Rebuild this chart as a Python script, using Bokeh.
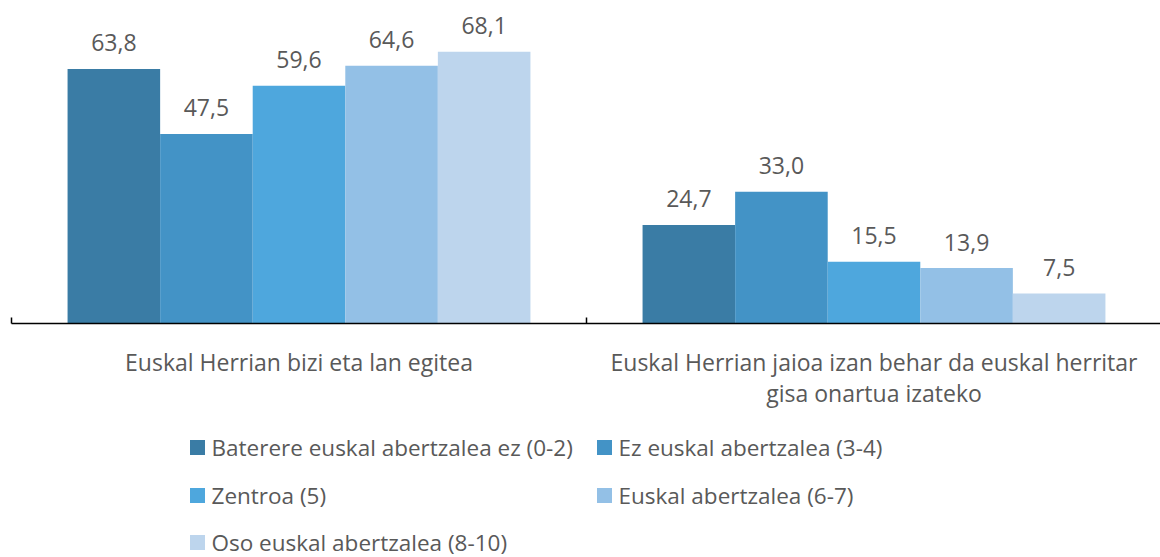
from bokeh.plotting import figure
from bokeh.models import Range1d
from bokeh.core.properties import value
from bokeh.embed import file_html
from bokeh.resources import INLINE

categories = ["Euskal Herrian bizi eta lan egitea",
              "Euskal Herrian jaioa izan behar da euskal herritar\ngisa onartua izateko"]
series = ["Baterere euskal abertzalea ez (0-2)", "Ez euskal abertzalea (3-4)",
          "Zentroa (5)", "Euskal abertzalea (6-7)", "Oso euskal abertzalea (8-10)"]
values_ = [
    [63.8, 24.7],
    [47.5, 33.0],
    [59.6, 15.5],
    [64.6, 13.9],
    [68.1, 7.5],
]
labels = [["63,8", "24,7"], ["47,5", "33,0"], ["59,6", "15,5"], ["64,6", "13,9"], ["68,1", "7,5"]]
colors = ["#3A7CA5", "#4393C6", "#4EA7DD", "#93C0E6", "#BDD5ED"]

W, H = 1160, 557
CAT_PX = 575.0          # pixel width of one category
X0_PX = 11.0            # px of category 0 start
Y0_PX = 323.0           # px of y=0
PPU = 3.99              # px per unit

def px2x(px):
    return (px - X0_PX) / CAT_PX

def py2y(py):
    return (Y0_PX - py) / PPU

p = figure(width=W, height=H, output_backend="svg", toolbar_location=None,
           x_range=Range1d(-X0_PX / CAT_PX, (W - X0_PX) / CAT_PX),
           y_range=Range1d(-(H - Y0_PX) / PPU, Y0_PX / PPU),
           min_border=0, outline_line_color=None)
p.axis.visible = False
p.grid.visible = False
p.background_fill_color = "white"
p.border_fill_color = "white"

FONT = "Open Sans"
TXT = "#595959"
group_w = 0.805
bw = group_w / len(series)

for i, (s, vals, labs, c) in enumerate(zip(series, values_, labels, colors)):
    xs = [k + 0.5 - group_w / 2 + bw * (i + 0.5) for k in range(len(categories))]
    p.vbar(x=xs, top=vals, bottom=0, width=bw, fill_color=c, line_color=None)
    p.text(x=xs, y=vals, text=labs, text_align="center", text_baseline="alphabetic",
           y_offset=-26, text_font=value(FONT), text_font_size="23px", text_color=TXT)

# axis line and ticks
p.segment(x0=[0], y0=[0], x1=[len(categories)], y1=[0], line_color="#000000", line_width=1.5)
tick_h = 6 / PPU
p.segment(x0=list(range(len(categories) + 1)), y0=[0] * (len(categories) + 1),
          x1=list(range(len(categories) + 1)), y1=[tick_h] * (len(categories) + 1),
          line_color="#000000", line_width=1.5)

# category labels
for k, cat in enumerate(categories):
    for j, line in enumerate(cat.split("\n")):
        p.text(x=[k + 0.5], y=[0], text=[line], text_align="center", text_baseline="middle",
               y_offset=38 + 31 * j, text_font=value(FONT), text_font_size="23px", text_color=TXT)

# legend
leg_pos = [(190, 447), (597, 447), (190, 495), (597, 495), (190, 542)]
for (lx, ly), s, c in zip(leg_pos, series, colors):
    p.scatter(x=[px2x(lx + 7)], y=[py2y(ly)], marker="square", size=15, fill_color=c, line_color=None)
    p.text(x=[px2x(lx + 21)], y=[py2y(ly)], text=[s], text_align="left", text_baseline="middle",
           text_font=value(FONT), text_font_size="22.5px", text_color=TXT)

open("out.html", "w").write(file_html(p, INLINE))
